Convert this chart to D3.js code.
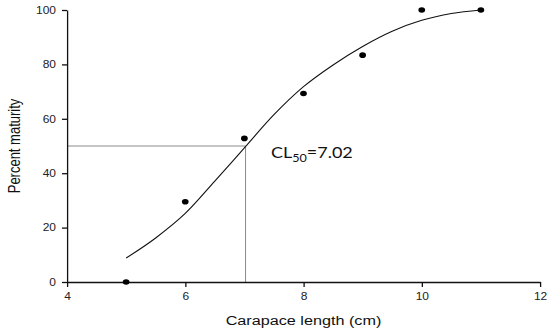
<!doctype html>
<html>
<head>
  <meta charset="UTF-8">
  <script src="https://d3js.org/d3.v7.min.js"></script>
  <style>
    body { margin: 0; background: #fff; }
    svg { display: block; }
    .tick text { font-family: "Liberation Sans", Arial, sans-serif; font-size: 10px; fill: #222; }
  </style>
</head>
<body>
<svg id="chart"></svg>
<script>
// observed maturity points
const lengths = [5, 6, 7, 8, 9, 10, 11];
const maturity = [0, 29.5, 52.8, 69.3, 83.4, 100, 100];

// fitted curve
const curveX = [5, 5.5, 6, 6.5, 7, 7.5, 8, 8.5, 9, 9.5, 10, 10.5, 11];
const curveY = [8.8, 16.2, 25.2, 37.1, 49.3, 61.5, 71.8, 79.8, 86.6, 92.2, 96.2, 98.7, 100];

const xTicks = [4, 6, 8, 10, 12];
const yTicks = [0, 20, 40, 60, 80, 100];
const cl50 = 7.02;

// the original picture is stretched sideways, so draw in a narrower viewBox
const W = 550, H = 332, sx = 1.2;
const svg = d3.select("#chart")
  .attr("width", W).attr("height", H)
  .attr("viewBox", "0 0 " + (W / sx) + " " + H)
  .attr("preserveAspectRatio", "none");

const x = d3.scaleLinear().domain([4, 12]).range([67 / sx, 540 / sx]);
const y = d3.scaleLinear().domain([0, 100]).range([282, 10]);

// CL50 guide lines
svg.append("line")
  .attr("x1", x(4)).attr("x2", x(cl50))
  .attr("y1", y(50)).attr("y2", y(50))
  .attr("stroke", "#8a8a8a").attr("stroke-width", 1)
  .attr("vector-effect", "non-scaling-stroke");
svg.append("line")
  .attr("x1", x(cl50)).attr("x2", x(cl50))
  .attr("y1", y(0)).attr("y2", y(50))
  .attr("stroke", "#8a8a8a").attr("stroke-width", 1)
  .attr("vector-effect", "non-scaling-stroke");

// axes
svg.append("g")
  .attr("transform", "translate(0," + y(0) + ")")
  .call(d3.axisBottom(x).tickValues(xTicks).tickSize(5).tickSizeOuter(0).tickPadding(6));
svg.append("g")
  .attr("transform", "translate(" + x(4) + ",0)")
  .call(d3.axisLeft(y).tickValues(yTicks).tickSize(5 / sx).tickSizeOuter(0).tickPadding(5));

svg.selectAll(".domain, .tick line")
  .attr("stroke", "#111").attr("stroke-width", 1.3)
  .attr("vector-effect", "non-scaling-stroke");

// fitted curve
svg.append("path")
  .datum(curveX.map((d, i) => [d, curveY[i]]))
  .attr("fill", "none")
  .attr("stroke", "#111")
  .attr("stroke-width", 1.1)
  .attr("vector-effect", "non-scaling-stroke")
  .attr("d", d3.line().x(d => x(d[0])).y(d => y(d[1])).curve(d3.curveMonotoneX));

// points
svg.selectAll(".pt")
  .data(lengths)
  .enter().append("circle")
  .attr("class", "pt")
  .attr("cx", d => x(d))
  .attr("cy", (d, i) => y(maturity[i]))
  .attr("r", 2.8)
  .attr("fill", "#000");

// axis titles
svg.append("text")
  .attr("x", (x(4) + x(12)) / 2)
  .attr("y", 325)
  .attr("text-anchor", "middle")
  .style("font-family", "Liberation Sans, Arial, sans-serif")
  .style("font-size", "13.5px")
  .style("fill", "#111")
  .text("Carapace length (cm)");

svg.append("text")
  .attr("transform", "translate(" + (20 / sx) + ",146) rotate(-90)")
  .attr("text-anchor", "middle")
  .style("font-family", "Liberation Sans, Arial, sans-serif")
  .style("font-size", "13px")
  .style("fill", "#111")
  .text("Percent maturity");

// CL50 label
const lab = svg.append("text")
  .attr("x", 271 / sx)
  .attr("y", 158)
  .style("font-family", "Lato, 'Open Sans', sans-serif")
  .style("font-size", "15px")
  .style("fill", "#111");
lab.append("tspan").text("CL");
lab.append("tspan").attr("dy", 4).style("font-size", "10.5px").text("50");
lab.append("tspan").attr("dy", -4).text("=" + cl50.toFixed(2));
</script>
</body>
</html>
